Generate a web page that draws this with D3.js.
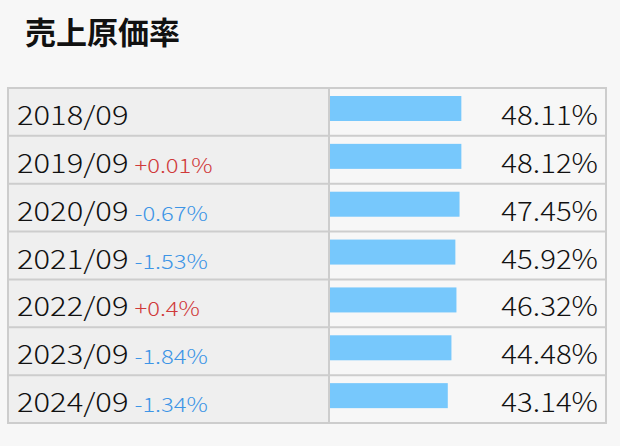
<!DOCTYPE html>
<meta charset="utf-8">
<script src="https://d3js.org/d3.v7.min.js"></script>
<style>
  body { margin: 0; background: #f7f7f7; }
  text { font-family: "Noto Sans CJK JP", sans-serif; }
</style>
<div id="chart"></div>
<script>
    // data
    var periods = ["2018/09", "2019/09", "2020/09", "2021/09", "2022/09", "2023/09", "2024/09"];
    var costRatio = [48.11, 48.12, 47.45, 45.92, 46.32, 44.48, 43.14];
    var changes = [null, 0.01, -0.67, -1.53, 0.4, -1.84, -1.34];
    var title = "売上原価率";

    var width = 620, height = 446;
    var table = {left: 8, right: 606, top: 88, bottom: 423, split: 329};

    var svg = d3.select("#chart")
      .append("svg")
        .attr("width", width)
        .attr("height", height);

    svg.append("text")
        .attr("x", 25)
        .attr("y", 44)
        .attr("font-size", 31)
        .attr("font-weight", 700)
        .attr("fill", "#111")
        .text(title);

    var rows = periods.map((p, i) => ({period: p, value: costRatio[i], change: changes[i]}));

    // one band per row
    var y = d3.scaleBand()
        .domain(periods)
        .range([table.top, table.bottom]);

    // bar length is the percentage of the cell width
    var x = d3.scaleLinear()
        .domain([0, 100])
        .range([0, 273]);

    // left column background
    svg.append("rect")
        .attr("x", table.left)
        .attr("y", table.top)
        .attr("width", table.split - table.left)
        .attr("height", table.bottom - table.top)
        .attr("fill", "#efefef");

    var row = svg.selectAll(".row")
      .data(rows)
      .enter().append("g")
        .attr("class", "row")
        .attr("transform", d => "translate(0," + y(d.period) + ")");

    row.append("rect")
        .attr("x", table.split + 1)
        .attr("y", 8)
        .attr("width", d => x(d.value))
        .attr("height", 25)
        .attr("fill", "#77c8fc");

    // the original font has wide round digits, so stretch a little
    var yearScale = 1.19, changeScale = 1.22, valueScale = 1.11;

    row.append("text")
        .attr("class", "year")
        .attr("transform", "translate(17,37) scale(" + yearScale + ",1)")
        .attr("font-size", 26)
        .attr("font-weight", 300)
        .attr("fill", "#111")
        .text(d => d.period);

    row.append("text")
        .attr("transform", function(d) {
          var w = d3.select(this.parentNode).select(".year").node().getComputedTextLength();
          return "translate(" + (17 + w * yearScale + 6) + ",37) scale(" + changeScale + ",1)";
        })
        .attr("font-size", 19.5)
        .attr("font-weight", 300)
        .attr("fill", d => d.change > 0 ? "#d0393a" : "#3d95e6")
        .text(d => d.change == null ? "" : (d.change > 0 ? "+" : "") + d.change + "%");

    row.append("text")
        .attr("transform", "translate(598,37) scale(" + valueScale + ",1)")
        .attr("text-anchor", "end")
        .attr("font-size", 26.5)
        .attr("font-weight", 300)
        .attr("fill", "#111")
        .text(d => d.value.toFixed(2) + "%");

    // grid lines
    var lineColor = "#cdcdcd";
    svg.selectAll(".hline")
      .data(periods.slice(1))
      .enter().append("line")
        .attr("x1", table.left)
        .attr("x2", table.right)
        .attr("y1", d => y(d))
        .attr("y2", d => y(d))
        .attr("stroke", lineColor)
        .attr("stroke-width", 2);

    svg.append("line")
        .attr("x1", table.split).attr("x2", table.split)
        .attr("y1", table.top).attr("y2", table.bottom)
        .attr("stroke", lineColor)
        .attr("stroke-width", 2);

    svg.append("rect")
        .attr("x", table.left)
        .attr("y", table.top)
        .attr("width", table.right - table.left)
        .attr("height", table.bottom - table.top)
        .attr("fill", "none")
        .attr("stroke", lineColor)
        .attr("stroke-width", 2);
</script>
